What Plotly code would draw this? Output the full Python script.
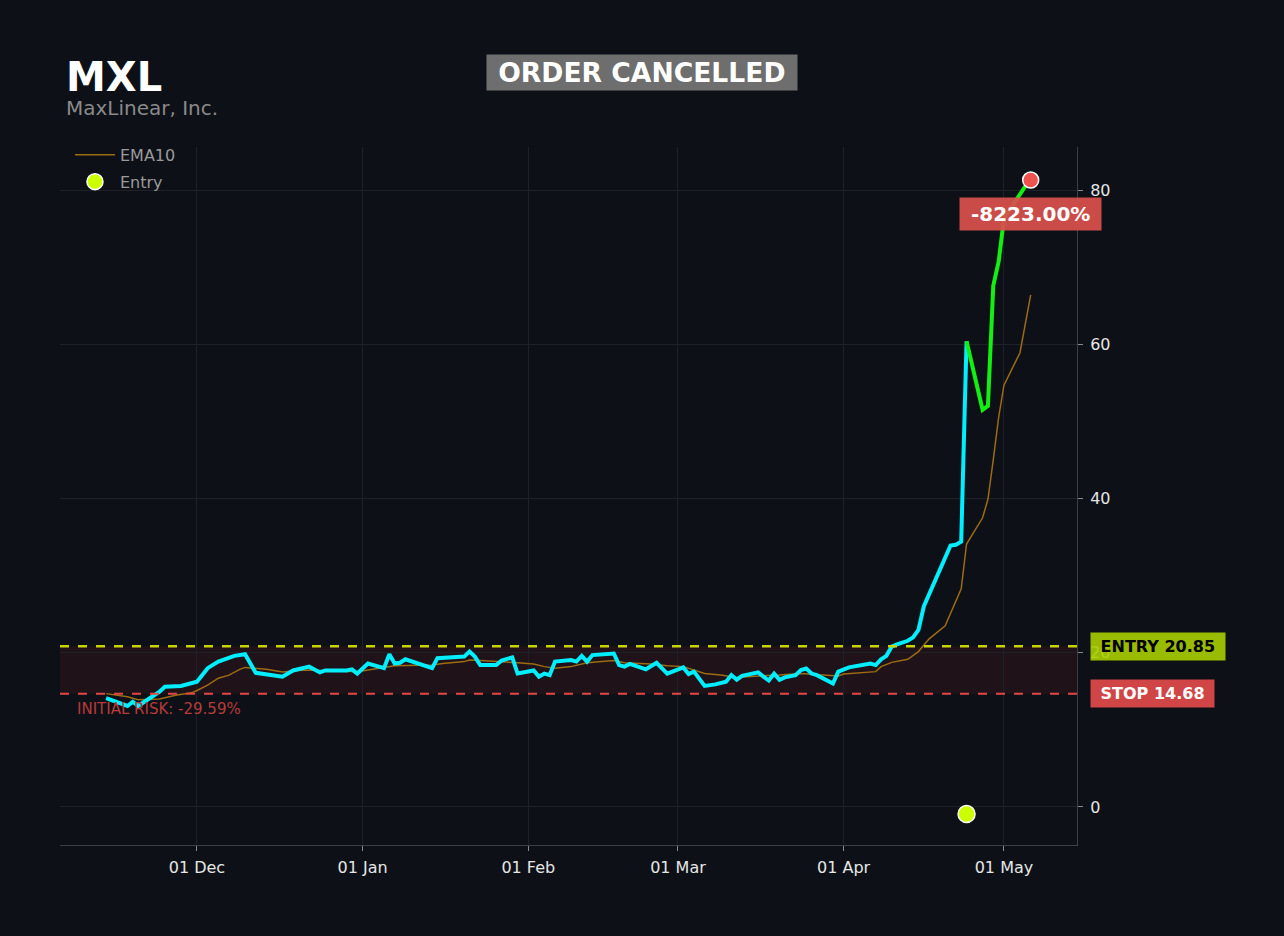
import plotly.graph_objects as go
import pandas as pd

# ---------------- data ----------------
price_dates = ["2024-11-14", "2024-11-18", "2024-11-19", "2024-11-20", "2024-11-24", "2024-11-25",
               "2024-11-28", "2024-12-01", "2024-12-03", "2024-12-05", "2024-12-08", "2024-12-10",
               "2024-12-12", "2024-12-17", "2024-12-19", "2024-12-22", "2024-12-24", "2024-12-25",
               "2024-12-29", "2024-12-30", "2024-12-31", "2025-01-02", "2025-01-05", "2025-01-06",
               "2025-01-07", "2025-01-08", "2025-01-09", "2025-01-12", "2025-01-14", "2025-01-15",
               "2025-01-20", "2025-01-21", "2025-01-22", "2025-01-23", "2025-01-26", "2025-01-27",
               "2025-01-29", "2025-01-30", "2025-02-02", "2025-02-03", "2025-02-04", "2025-02-05",
               "2025-02-06", "2025-02-09", "2025-02-10", "2025-02-11", "2025-02-12", "2025-02-13",
               "2025-02-17", "2025-02-18", "2025-02-19", "2025-02-20", "2025-02-23", "2025-02-25",
               "2025-02-27", "2025-03-02", "2025-03-03", "2025-03-04", "2025-03-06", "2025-03-08",
               "2025-03-10", "2025-03-11", "2025-03-12", "2025-03-13", "2025-03-16", "2025-03-17",
               "2025-03-18", "2025-03-19", "2025-03-20", "2025-03-21", "2025-03-23", "2025-03-24",
               "2025-03-25", "2025-03-26", "2025-03-27", "2025-03-30", "2025-03-31", "2025-04-02",
               "2025-04-04", "2025-04-06", "2025-04-07", "2025-04-08", "2025-04-09", "2025-04-10",
               "2025-04-11", "2025-04-13", "2025-04-14", "2025-04-15", "2025-04-16", "2025-04-21",
               "2025-04-22", "2025-04-23", "2025-04-24", "2025-04-27", "2025-04-28", "2025-04-29",
               "2025-04-30", "2025-05-01", "2025-05-05", "2025-05-06"]
price_vals = [14.1, 13.1, 13.65, 13.1, 14.95, 15.6,
              15.7, 16.25, 18.0, 18.85, 19.6, 19.8,
              17.4, 16.9, 17.7, 18.2, 17.45, 17.7,
              17.7, 17.85, 17.3, 18.6, 18.0, 19.8,
              18.6, 18.7, 19.15, 18.4, 18.0, 19.3,
              19.5, 20.15, 19.5, 18.4, 18.4, 19.0,
              19.4, 17.3, 17.7, 16.9, 17.3, 17.1,
              18.85, 19.05, 18.85, 19.6, 18.85, 19.7,
              19.9, 18.4, 18.2, 18.55, 17.85, 18.7,
              17.3, 18.1, 17.25, 17.55, 15.7, 15.9,
              16.25, 17.1, 16.5, 17.0, 17.45, 16.9,
              16.4, 17.3, 16.5, 16.8, 17.1, 17.75,
              17.95, 17.3, 17.1, 16.0, 17.55, 18.1,
              18.4, 18.6, 18.4, 19.15, 19.6, 20.8,
              21.1, 21.55, 22.0, 22.95, 26.0, 33.9,
              34.0, 34.4, 60.4, 51.5, 52.0, 67.6,
              70.7, 76.3, 80.5, 81.3]

ema_dates = ["2024-11-14", "2024-11-18", "2024-11-20", "2024-11-24", "2024-11-27", "2024-11-30",
             "2024-12-01", "2024-12-03", "2024-12-05", "2024-12-07", "2024-12-09", "2024-12-10",
             "2024-12-14", "2024-12-17", "2024-12-20", "2024-12-22", "2024-12-31", "2025-01-04",
             "2025-01-07", "2025-01-14", "2025-01-16", "2025-01-20", "2025-01-21", "2025-01-23",
             "2025-01-28", "2025-01-30", "2025-02-02", "2025-02-04", "2025-02-06", "2025-02-09",
             "2025-02-12", "2025-02-17", "2025-02-19", "2025-02-24", "2025-02-27", "2025-03-02",
             "2025-03-06", "2025-03-09", "2025-03-12", "2025-03-16", "2025-03-20", "2025-03-24",
             "2025-03-26", "2025-03-31", "2025-04-01", "2025-04-07", "2025-04-08", "2025-04-10",
             "2025-04-13", "2025-04-15", "2025-04-17", "2025-04-20", "2025-04-23", "2025-04-24",
             "2025-04-27", "2025-04-28", "2025-04-29", "2025-04-30", "2025-05-01", "2025-05-04",
             "2025-05-06"]
ema_vals = [14.7, 14.3, 13.9, 14.0, 14.5, 14.8,
            15.1, 15.8, 16.7, 17.1, 17.85, 18.1,
            17.85, 17.5, 17.7, 17.75, 17.55, 18.0,
            18.3, 18.4, 18.6, 18.85, 19.05, 19.0,
            18.85, 18.7, 18.55, 18.2, 18.0, 18.2,
            18.7, 19.0, 18.7, 18.55, 18.3, 18.2,
            17.3, 17.1, 16.8, 17.0, 17.1, 17.3,
            17.2, 17.0, 17.25, 17.55, 18.2, 18.75,
            19.15, 20.15, 21.8, 23.5, 28.3, 34.1,
            37.5, 39.9, 45.0, 50.5, 54.7, 58.9,
            66.4]

y_ticks = [0, 20, 40, 60, 80]

ticker = "MXL"
company = "MaxLinear, Inc."
status = "ORDER CANCELLED"
entry_price = 20.85
stop_price = 14.68
entry_date = "2025-04-24"
entry_marker_y = -0.9
exit_date = "2025-05-06"
exit_price = 81.3
pnl_text = "-8223.00%"
risk_text = "INITIAL RISK: -29.59%"

# ---------------- styling ----------------
BG = "#0d1117"
GRID = "#1d2229"
FONT = "DejaVu Sans"

pd_dates = pd.to_datetime(price_dates)
split = list(pd_dates).index(pd.Timestamp(entry_date))
pre_x, pre_y = pd_dates[:split + 1], price_vals[:split + 1]
post_x, post_y = pd_dates[split:], price_vals[split:]

fig = go.Figure()

# EMA10
fig.add_trace(go.Scatter(x=pd.to_datetime(ema_dates), y=ema_vals, mode="lines",
                         name="EMA10", legendgroup="ema",
                         line=dict(color="#9c6b12", width=1.5)))
# price before entry
fig.add_trace(go.Scatter(x=pre_x, y=pre_y, mode="lines", showlegend=False,
                         line=dict(color="#00eeff", width=4)))
# price after entry
fig.add_trace(go.Scatter(x=post_x, y=post_y, mode="lines", showlegend=False,
                         line=dict(color="#11f011", width=4)))
# Entry marker
fig.add_trace(go.Scatter(x=[pd.Timestamp(entry_date)], y=[entry_marker_y], mode="markers",
                         name="Entry", legendgroup="entry",
                         marker=dict(color="#ccff00", size=17, line=dict(color="white", width=1.5))))
# Exit marker
fig.add_trace(go.Scatter(x=[pd.Timestamp(exit_date)], y=[exit_price], mode="markers",
                         showlegend=False,
                         marker=dict(color="#ef5350", size=16, line=dict(color="white", width=1.5))))

# risk band
fig.add_shape(type="rect", xref="paper", x0=0, x1=1, yref="y", y0=stop_price, y1=entry_price,
              fillcolor="rgba(200,40,50,0.10)", line=dict(width=0), layer="below")
# entry / stop lines
fig.add_shape(type="line", xref="paper", x0=0, x1=1, yref="y", y0=entry_price, y1=entry_price,
              line=dict(color="#c8d400", width=2.5, dash="dash"))
fig.add_shape(type="line", xref="paper", x0=0, x1=1, yref="y", y0=stop_price, y1=stop_price,
              line=dict(color="#e04848", width=2, dash="dash"))

annotations = [
    dict(text=f"<b>{ticker}</b>", xref="paper", yref="paper", x=0.004, y=1.1005,
         xanchor="left", yanchor="middle", showarrow=False,
         font=dict(family=FONT, size=40, color="white")),
    dict(text=company, xref="paper", yref="paper", x=0.004, y=1.0565,
         xanchor="left", yanchor="middle", showarrow=False,
         font=dict(family=FONT, size=20, color="#8a8a8a")),
    dict(text=f"<b>&nbsp;{status}&nbsp;</b>", xref="paper", yref="paper", x=0.572, y=1.107,
         xanchor="center", yanchor="middle", showarrow=False, bgcolor="#6e6e6e", borderpad=2,
         font=dict(family=FONT, size=26.6, color="white")),
    dict(text=f"<b>&nbsp;ENTRY {entry_price:.2f}&nbsp;</b>", xref="paper", yref="y", x=1.0128,
         y=entry_price, xanchor="left", yanchor="middle", showarrow=False,
         bgcolor="rgba(168,206,0,0.9)", borderpad=4,
         font=dict(family=FONT, size=16, color="black")),
    dict(text=f"<b>&nbsp;STOP {stop_price:.2f}&nbsp;</b>", xref="paper", yref="y", x=1.0128,
         y=stop_price, xanchor="left", yanchor="middle", showarrow=False, bgcolor="#d04545",
         borderpad=4, font=dict(family=FONT, size=16, color="white")),
    dict(text=risk_text, xref="paper", yref="y", x=0.0147, y=stop_price,
         xanchor="left", yanchor="top", yshift=-4, showarrow=False,
         font=dict(family=FONT, size=15, color="#b83a3a")),
    dict(text=f"<b>&nbsp;{pnl_text}&nbsp;</b>", xref="x", yref="y", x=pd.Timestamp(exit_date),
         y=exit_price, xanchor="center", yanchor="middle", yshift=-34, showarrow=False,
         bgcolor="rgba(217,80,76,0.93)", borderpad=4,
         font=dict(family=FONT, size=20, color="white")),
]

fig.update_layout(
    width=1284, height=936, autosize=False,
    paper_bgcolor=BG, plot_bgcolor=BG,
    margin=dict(l=60, r=207, t=147, b=91),
    font=dict(family=FONT, color="#e6e6e6", size=16),
    annotations=annotations,
    showlegend=True,
    legend=dict(x=0.0098, y=1.013, xanchor="left", yanchor="top", bgcolor="rgba(0,0,0,0)",
                itemwidth=40, tracegroupgap=3, traceorder="grouped",
                font=dict(family=FONT, size=16, color="#9a9a9a")),
    hovermode=False,
)
fig.update_xaxes(
    type="date", range=["2024-11-05 09:00", "2025-05-14 16:00"],
    tick0="2024-12-01", dtick="M1", tickformat="%d %b",
    showgrid=True, gridcolor=GRID, gridwidth=1,
    showline=True, linecolor="#3a3f46", linewidth=1,
    ticks="outside", ticklen=5, tickcolor="#8a8a8a", ticklabelstandoff=3,
    tickfont=dict(family=FONT, size=16, color="#e6e6e6"), zeroline=False,
)
fig.update_yaxes(
    side="right", range=[-4.93, 85.58], tickvals=y_ticks,
    showgrid=True, gridcolor=GRID, gridwidth=1,
    showline=True, linecolor="#3a3f46", linewidth=1,
    ticks="outside", ticklen=5, tickcolor="#8a8a8a", ticklabelstandoff=4,
    tickfont=dict(family=FONT, size=16, color="#e6e6e6"), zeroline=False,
)

fig.write_html("out.html", config={"displayModeBar": False},
               post_script="document.body.style.margin='0';"
                           "document.body.style.background='#0d1117';")
